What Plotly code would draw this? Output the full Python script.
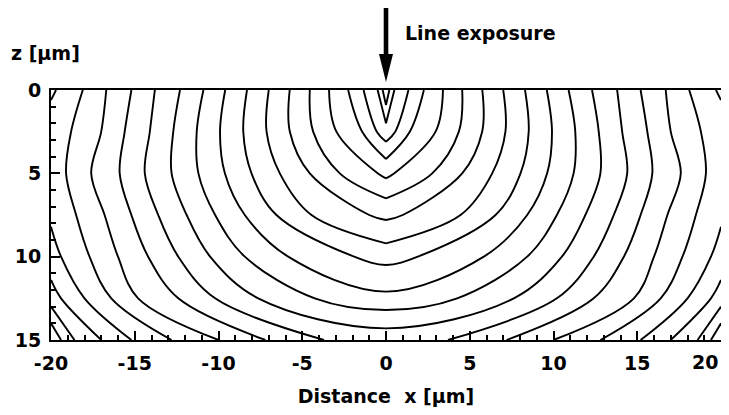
import plotly.graph_objects as go

# ---- data (right half; the figure is mirror-symmetric about x = 0) ----
CONTOUR_ID = list(range(1, 21))
Z_LEVELS = [0, 2.5, 5, 7.5, 10, 12.5, 15]
X_AT_Z0    = [0.2, 0.5, 1.34, 2.26, 3.4, 4.55, 5.75, 7.0, 8.3, 9.6, 10.9, 12.3, 13.8, 15.2, 16.7, 18.1, 19.7, None, None, None]
X_AT_Z2_5  = [None, None, 0.55, 1.42, 2.96, 4.35, 5.74, 7.13, 8.52, 9.91, 11.3, 12.7, 14.1, 15.6, 17.0, 18.8, None, None, None, None]
X_AT_Z5    = [None, None, None, None, 0.5, 2.76, 4.55, 6.34, 8.03, 9.62, 11.2, 12.8, 14.4, 15.9, 17.6, 19.1, None, None, None, None]
X_AT_Z7_5  = [None, None, None, None, None, None, 1.0, 4.45, 6.54, 8.43, 10.2, 11.9, 13.6, 15.2, 16.8, 18.5, None, None, None, None]
X_AT_Z10   = [None, None, None, None, None, None, None, None, 1.9, 5.84, 8.43, 10.5, 12.4, 14.2, 16.0, 17.7, 19.4, None, None, None]
X_AT_Z12_5 = [None, None, None, None, None, None, None, None, None, None, 4.25, 7.63, 10.2, 12.4, 14.8, 16.4, 18.0, 19.4, None, None]
X_AT_Z15   = [None, None, None, None, None, None, None, None, None, None, None, None, 3.7, 7.2, 10.0, 12.8, 15.2, 17.0, 18.6, 19.4]
TIP_DEPTH  = [0.9, 2.0, 3.1, 4.14, 5.3, 6.5, 7.8, 9.2, 10.5, 12.1, 13.2, 14.3, None, None, None, None, None, None, None, None]
EDGE_EXIT_Z  = [None] * 16 + [0.6, None, None, None]     # depth where a contour leaves the side edge
EDGE_ENTRY_Z = [None] * 16 + [8.2, 11.4, 13.0, 14.0]     # depth where a contour re-enters from the side edge

X_TICKS = [-20, -15, -10, -5, 0, 5, 10, 15, 20]
X_TICK_TEXT = ["-20", "-15", "-10", "-5", "0", "5", "10", "15", ""]   # the "20" label is placed separately
X_LAST_TICK_LABEL = "20"
Z_TICKS = [0, 5, 10, 15]
X_RANGE = [-20, 20]
Z_RANGE = [15, 0]

LEVEL_ARRAYS = [X_AT_Z0, X_AT_Z2_5, X_AT_Z5, X_AT_Z7_5, X_AT_Z10, X_AT_Z12_5, X_AT_Z15]
EDGE_X = X_RANGE[1]

LINE = dict(color="black", width=1.9)
fig = go.Figure()


def add_line(xs, zs, shape):
    fig.add_trace(go.Scatter(x=xs, y=zs, mode="lines", line=dict(shape=shape, smoothing=1.0, **LINE),
                             hoverinfo="skip", showlegend=False))


for i, cid in enumerate(CONTOUR_ID):
    pts = [(arr[i], z) for z, arr in zip(Z_LEVELS, LEVEL_ARRAYS) if arr[i] is not None]
    segments = []
    if EDGE_EXIT_Z[i] is not None or EDGE_ENTRY_Z[i] is not None:
        upper = [p for p in pts if EDGE_EXIT_Z[i] is not None and p[1] < EDGE_EXIT_Z[i]]
        lower = [p for p in pts if EDGE_ENTRY_Z[i] is not None and p[1] > EDGE_ENTRY_Z[i]]
        if upper:
            segments.append(upper + [(EDGE_X, EDGE_EXIT_Z[i])])
        segments.append([(EDGE_X, EDGE_ENTRY_Z[i])] + lower)
    else:
        segments.append(pts)

    tip = TIP_DEPTH[i]
    if tip is not None:
        right = segments[0]
        if tip >= 10:
            xs = [-p[0] for p in right] + [0] + [p[0] for p in reversed(right)]
            zs = [p[1] for p in right] + [tip] + [p[1] for p in reversed(right)]
            add_line(xs, zs, "spline")
        else:
            shape = "linear" if len(right) < 2 else "spline"
            for sgn in (1, -1):
                xs = [sgn * p[0] for p in right] + [0]
                zs = [p[1] for p in right] + [tip]
                add_line(xs, zs, shape)
    else:
        for seg in segments:
            shape = "linear" if len(seg) < 3 else "spline"
            for sgn in (1, -1):
                add_line([sgn * p[0] for p in seg], [p[1] for p in seg], shape)

FONT = "DejaVu Sans"
tickfont = dict(family=FONT, size=19, color="black", weight="bold")

common = dict(ticks="inside", ticklen=9, tickwidth=2, tickcolor="black",
              showline=True, linewidth=2, linecolor="black", mirror=True,
              showgrid=False, zeroline=False, tickfont=tickfont, automargin=False,
              minor=dict(dtick=1, ticks="inside", ticklen=5, tickwidth=1.5, tickcolor="black", showgrid=False))

fig.update_xaxes(range=X_RANGE, tickvals=X_TICKS, ticktext=X_TICK_TEXT, ticklabelstandoff=5,
                 title=dict(text="Distance  x [µm]", font=dict(family=FONT, size=19, color="black", weight="bold"),
                            standoff=18),
                 **common)
fig.update_yaxes(range=Z_RANGE, tickvals=Z_TICKS, ticktext=[str(v) for v in Z_TICKS], ticklabelstandoff=4,
                 **common)

# the page adds an 8 px body margin, so the figure is sized to fit inside the window without scrolling
fig.update_layout(
    width=721, height=399,
    margin=dict(l=43, r=8, t=82, b=67),
    plot_bgcolor="white", paper_bgcolor="white",
    showlegend=False,
    annotations=[
        dict(text=X_LAST_TICK_LABEL, xref="x", yref="paper", x=X_TICKS[-1], y=0, xanchor="right", yanchor="middle",
             xshift=-1, yshift=-22, showarrow=False, font=tickfont),
        dict(text="z [µm]", xref="paper", yref="paper", x=-0.062, y=1.15, xanchor="left", yanchor="middle",
             showarrow=False, font=dict(family=FONT, size=19, color="black", weight="bold")),
        dict(text="Line exposure", xref="paper", yref="paper", x=0.525, y=1.228, xanchor="left", yanchor="middle",
             showarrow=False, font=dict(family=FONT, size=19, color="black", weight="bold")),
    ],
    shapes=[
        # arrow shaft and head, in pixels above the centre of the top edge
        dict(type="path", xref="paper", yref="paper", xsizemode="pixel", ysizemode="pixel", xanchor=0.5, yanchor=1,
             path="M -2.3,30 L 2.3,30 L 2.3,88 L -2.3,88 Z", fillcolor="black", line=dict(width=0)),
        dict(type="path", xref="paper", yref="paper", xsizemode="pixel", ysizemode="pixel", xanchor=0.5, yanchor=1,
             path="M 0,8 L -7,36 L 7,36 Z", fillcolor="black", line=dict(width=0)),
    ],
)

fig.write_html("out.html")
